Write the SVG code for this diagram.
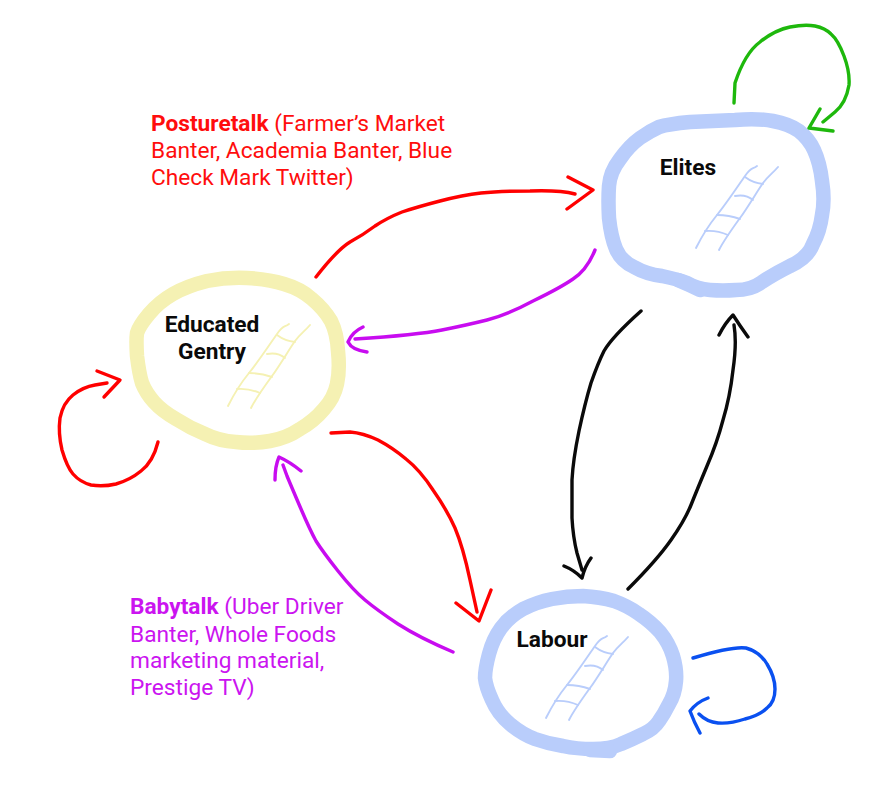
<svg xmlns="http://www.w3.org/2000/svg" width="895" height="787" viewBox="0 0 895 787">
<style>
text{font-family:Roboto,"Liberation Sans",sans-serif}
.ring,.rail,.c{fill:none;stroke-linecap:round;stroke-linejoin:round}
.ring{stroke-width:14.5}
.rail{stroke-width:1.9}
.c{stroke-width:3.4}
.blue{stroke:#b9cdfb}
.yel{stroke:#f5f1b3}
.n{font-size:22.7px;font-weight:700;fill:#0a0a0a;text-anchor:middle}
.l{font-size:22.7px}
.rt{fill:#ff0d0d}.pt{fill:#cb14f0}
.red{stroke:#ff0000}.pur{stroke:#c80cf0}.blk{stroke:#0a0a0a}.grn{stroke:#1eb80c}.blu{stroke:#0a50f0}
</style>
<defs>
<g id="ladder" class="rail">
<path d="M0 0C5 -10 12 -22 21 -33S42 -62 49 -72S56 -78 61 -82"/>
<path d="M23 2C27 -6 36 -19 44 -30S62 -58 67 -65S76 -74 82 -81"/>
<path d="M9 -17Q21 -18 32 -13"/>
<path d="M21 -33Q33 -33 44 -29"/>
<path d="M39 -52Q50 -54 57 -48"/>
<path d="M49 -71Q57 -65 67 -64"/>
</g>
</defs>
<g id="elites">
<path class="ring blue" d="M690 122Q713 121 735 120Q757 118 773 121Q789 124 799 131Q809 139 814 150Q820 163 822 181Q825 200 822 215Q820 231 813 244Q808 258 790 266Q774 274 762 282Q751 290 736 290Q723 291 710 290Q697 289 687 283Q677 279 662 276Q646 274 634 267Q621 261 616 249Q611 237 609 218Q608 200 609 186Q610 172 620 159Q629 146 640 138Q650 131 659 127Q668 124 690 122Z"/>
<path class="ring blue" d="M678 280Q690 285 700 290"/>
<use href="#ladder" x="696" y="248" class="blue"/>
<text class="n" x="688" y="175">Elites</text>
</g>
<g id="educated-gentry">
<path class="ring yel" d="M207 281Q227 277 247 278Q268 279 284 284Q301 289 312 299Q324 309 331 321Q337 333 338 351Q340 370 337 384Q334 398 324 409Q314 421 300 429Q287 438 270 441Q253 444 236 442Q219 441 205 434Q190 428 176 419Q162 411 154 402Q146 393 142 383Q139 373 137 356Q136 340 137 333Q139 326 149 314Q159 302 173 294Q187 286 207 281Z"/>
<use href="#ladder" x="228" y="406" class="yel"/>
<text class="n" x="212" y="332">Educated</text>
<text class="n" x="212" y="359">Gentry</text>
</g>
<g id="labour">
<path class="ring blue" d="M552 599Q567 596 583 596Q600 597 614 601Q628 606 639 614Q651 622 660 632Q669 643 673 656Q677 670 676 681Q675 694 669 704Q664 714 659 721Q654 729 643 734Q633 739 621 744Q610 749 593 749Q577 749 563 746Q549 744 535 739Q522 734 510 724Q498 714 492 700Q486 687 485 678Q485 669 489 654Q493 639 501 628Q509 617 523 609Q537 602 552 599Z"/>
<path class="ring blue" d="M590 750L610 751"/>
<use href="#ladder" x="546" y="718" class="blue"/>
<text class="n" x="552" y="647">Labour</text>
</g>
<g id="connectors">
<path class="c red" d="M316 277Q337 250 350 242Q363 235 375 226Q387 218 402 212Q417 207 440 201Q463 195 481 193Q500 191 530 191Q560 190 575 194M568 177L593 190L567 209"/>
<path class="c pur" d="M595 250Q587 270 573 279Q560 288 533 301Q507 315 487 320Q467 325 442 330Q417 335 355 339M363 327Q352 332 348 342Q352 350 367 352"/>
<path class="c blk" d="M641 311Q612 337 604 351Q598 363 591 383Q585 403 579 431Q573 460 572 480Q572 500 572 518Q573 537 577 553L582 570M564 566Q574 570 582 578Q585 566 591 558"/>
<path class="c blk" d="M628 589Q657 560 671 540Q685 520 691 505Q697 490 707 466Q717 443 723 420Q730 397 733 370Q737 343 734 325M719 335Q725 323 733 315Q740 326 748 337"/>
<path class="c red" d="M331 433L350 432Q363 433 378 440Q393 448 406 459Q420 470 433 490Q447 510 455 528Q463 547 470 580L477 612M456 603L479 621L491 590"/>
<path class="c pur" d="M453 652Q420 638 398 624Q377 610 365 600Q353 590 338 571Q323 552 316 541Q310 530 301 509Q292 488 287 476L283 465M275 480Q275 466 279 457Q290 462 301 471"/>
<path class="c red" d="M158 442Q153 462 141 471Q130 480 116 484Q103 487 91 485Q80 482 73 474Q67 467 62 450Q58 433 60 418Q63 403 73 395Q83 387 95 385L107 383M97 371L120 380L104 397"/>
<path class="c grn" d="M734 103L735 83Q745 53 760 42Q775 30 790 27Q805 24 815 26Q825 28 831 34Q838 40 844 56Q850 72 849 85Q846 103 835 112L823 122M820 109L809 128L833 131"/>
<path class="c blu" d="M693 658Q733 646 746 648Q760 652 767 664Q775 677 775 689Q775 702 767 708Q760 715 745 719Q730 724 718 723Q707 722 699 714M708 698Q697 702 690 711Q694 722 700 733"/>
</g>
<text class="l rt" x="151" y="131"><tspan font-weight="700">Posturetalk</tspan> (Farmer’s Market</text>
<text class="l rt" x="151" y="158">Banter, Academia Banter, Blue</text>
<text class="l rt" x="151" y="185">Check Mark Twitter)</text>
<text class="l pt" x="130" y="614"><tspan font-weight="700">Babytalk</tspan> (Uber Driver</text>
<text class="l pt" x="130" y="642">Banter, Whole Foods</text>
<text class="l pt" x="130" y="668">marketing material,</text>
<text class="l pt" x="130" y="695">Prestige TV)</text>
</svg>
